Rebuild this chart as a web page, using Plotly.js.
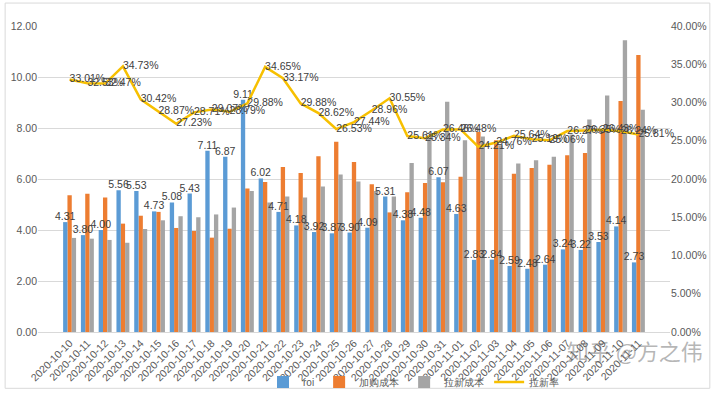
<!DOCTYPE html>
<html>
<head>
<meta charset="utf-8">
<script src="https://cdn.plot.ly/plotly-3.0.1.min.js"></script>
<style>html,body{margin:0;padding:0;background:#fff;}#chart{width:720px;height:395px;}</style>
</head>
<body>
<div id="chart"></div>
<script>
const dates = ["2020-10-10","2020-10-11","2020-10-12","2020-10-13","2020-10-14","2020-10-15","2020-10-16","2020-10-17","2020-10-18","2020-10-19","2020-10-20","2020-10-21","2020-10-22","2020-10-23","2020-10-24","2020-10-25","2020-10-26","2020-10-27","2020-10-28","2020-10-29","2020-10-30","2020-10-31","2020-11-01","2020-11-02","2020-11-03","2020-11-04","2020-11-05","2020-11-06","2020-11-07","2020-11-08","2020-11-09","2020-11-10","2020-11-11"];
const roi = [4.31,3.80,4.00,5.56,5.53,4.73,5.08,5.43,7.11,6.87,9.11,6.02,4.71,4.18,3.92,3.87,3.90,4.09,5.31,4.38,4.48,6.07,4.63,2.83,2.84,2.59,2.48,2.64,3.24,3.22,3.53,4.14,2.73];
const cartCost = [5.36,5.42,5.27,4.25,4.56,4.71,4.08,3.96,3.70,4.05,5.63,5.88,6.47,6.24,6.89,7.46,6.67,5.79,4.69,5.48,5.84,5.87,6.09,7.84,7.52,6.21,6.43,6.56,6.93,7.02,7.85,9.06,10.86];
const newCost = [3.69,3.66,3.61,3.50,4.04,4.38,4.54,4.50,4.61,4.88,5.53,5.08,5.31,5.27,5.71,6.18,5.90,5.53,5.31,6.63,7.62,9.03,7.52,7.67,7.32,6.61,6.74,6.87,7.75,8.33,9.27,11.44,8.72];
const newRate = [33.01,32.53,32.47,34.73,30.42,28.87,27.23,28.71,29.07,28.79,29.88,34.65,33.17,29.88,28.62,26.53,27.44,28.96,30.55,25.61,25.34,26.46,26.48,24.21,24.76,25.64,25.19,25.06,26.27,26.35,26.43,26.24,25.81];
const seriesNames = ["roi","加购成本","拉新成本","拉新率"];

const font = "Liberation Sans, Arial, sans-serif";
const lblColor = "#404040";
const bw = 0.243;

const traces = [
  {type:"bar", name:seriesNames[1], legendrank:2, x:dates, y:cartCost, marker:{color:"#ED7D31"}, width:bw, offset:-bw/2},
  {type:"bar", name:seriesNames[2], legendrank:3, x:dates, y:newCost, marker:{color:"#A5A5A5"}, width:bw, offset:bw/2},
  {type:"bar", name:seriesNames[0], legendrank:1, x:dates, y:roi, marker:{color:"#5B9BD5"}, width:bw, offset:-1.5*bw,
   text:roi.map(v=>v.toFixed(2)), textposition:"outside", constraintext:"none", cliponaxis:false,
   textfont:{size:10.5, color:lblColor, family:font}},
  {type:"scatter", mode:"lines+text", name:seriesNames[3], legendrank:4, x:dates, y:newRate, yaxis:"y2",
   line:{color:"#F7C000", width:2.5}, text:newRate.map(v=>v.toFixed(2)+"%"),
   textposition:"middle right", cliponaxis:false, textfont:{size:10.5, color:lblColor, family:font}}
];

const layout = {
  width:720, height:395,
  margin:{l:38, r:50, t:26, b:63},
  paper_bgcolor:"#fff", plot_bgcolor:"#fff",
  font:{family:font, size:10.5, color:"#595959"},
  barmode:"overlay",
  showlegend:true,
  legend:{orientation:"h", xref:"container", yref:"container", x:0.575, xanchor:"center", y:0.033, yanchor:"middle",
          font:{size:10, color:"#595959"}, tracegroupgap:0, bgcolor:"rgba(0,0,0,0)", itemwidth:30,
          traceorder:"normal"},
  xaxis:{type:"category", tickangle:-45, showline:true, linecolor:"#D9D9D9", linewidth:1, ticks:"", showgrid:false,
         tickfont:{size:10.5, color:"#595959"}, automargin:false},
  yaxis:{range:[0,12], dtick:2, tickformat:".2f", showgrid:true, gridcolor:"#D9D9D9", zeroline:false, ticks:"",
         tickfont:{size:10.5, color:"#595959"}, automargin:false},
  yaxis2:{range:[0,40], dtick:5, tickformat:".2f", ticksuffix:"%", overlaying:"y", side:"right", showgrid:false,
          zeroline:false, ticks:"", tickfont:{size:10.5, color:"#595959"}, automargin:false},
  shapes:[{type:"rect", xref:"paper", yref:"paper", x0:-0.052, x1:1.063, y0:-0.184, y1:1.075,
           line:{color:"#D9D9D9", width:1}, fillcolor:"rgba(0,0,0,0)", layer:"below"}],
  annotations:[{text:"知乎 @方之伟", xref:"paper", yref:"paper", x:0.945, y:-0.06, xanchor:"center", yanchor:"middle",
                showarrow:false, font:{family:"Noto Sans CJK SC", size:22, color:"rgba(110,110,110,0.5)"}}]
};

Plotly.newPlot("chart", traces, layout, {staticPlot:true, displayModeBar:false});
</script>
</body>
</html>
